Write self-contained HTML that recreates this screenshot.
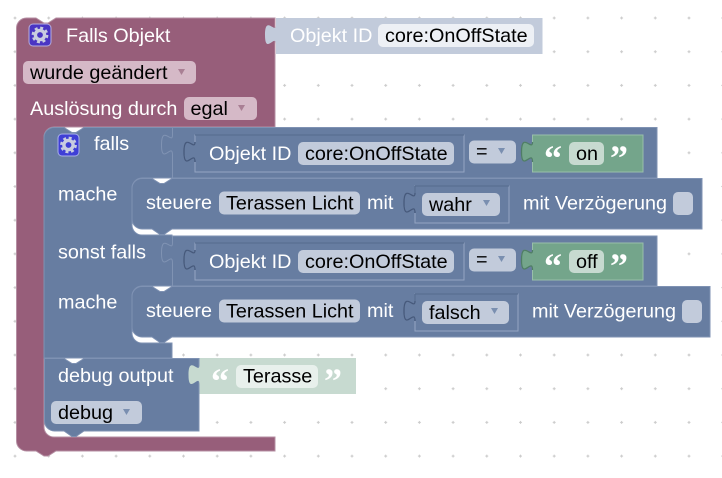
<!DOCTYPE html>
<html><head><meta charset="utf-8"><style>
html,body{margin:0;padding:0;background:#fff}
svg{display:block}
text{font-family:"Liberation Sans",sans-serif;font-size:19.8px;fill:#fff}
.d{fill:#000}
.q{font-family:"Liberation Serif",serif;font-weight:bold;font-size:36px}
.t{fill:none;stroke:#46597b;stroke-width:1.3}
.g{fill:none;stroke:#4f7d65;stroke-width:1.3}
.a{fill:#7a8fb0}
.p{fill:#a97f94}
</style></head><body>
<svg width="722" height="478" viewBox="0 0 722 478" xmlns="http://www.w3.org/2000/svg">
<defs>
<pattern id="g" x="-1.85" y="1.15" width="33.7" height="33.7" patternUnits="userSpaceOnUse"><path d="M15.35 16.85h3M16.85 15.35v3" stroke="#d0d0d0" stroke-width="1"/><circle cx="16.85" cy="16.85" r="1" fill="#ccc"/></pattern>
<g id="gear"><circle r="4.6" fill="none" stroke="#c9cde0" stroke-width="3.4"/><circle r="7.2" fill="none" stroke="#c9cde0" stroke-width="2.4" stroke-dasharray="3 2.65"/></g>
</defs>
<rect width="722" height="478" fill="url(#g)"/>

<!-- outer purple -->
<path d="M26.5,18 H36 l8,5 4,0 8,-5 H275 V127 H54 a10,10 0 0 0 -10,10 V427 a10,10 0 0 0 10,10 H275 V451 H56 l-8,5 -4,0 -8,-5 H26.5 a10,10 0 0 1 -10,-10 V28 a10,10 0 0 1 10,-10 Z" fill="#975e7a" stroke="#b58fa3" stroke-width="1"/>
<rect x="29" y="24" width="22" height="22" rx="4" fill="#4a35c4" stroke="#b5aede"/>
<use href="#gear" x="40" y="35"/>
<text x="66" y="42">Falls Objekt</text>
<rect x="23" y="61" width="173" height="23" rx="5" fill="#d5b9c7"/>
<text class="d" x="30" y="79">wurde geändert</text>
<path class="p" d="M178,69 h7 l-3.500,6 z"/>
<text x="30" y="115">Auslösung durch</text>
<rect x="184" y="97" width="73" height="23" rx="5" fill="#d5b9c7"/>
<text class="d" x="190.500" y="115">egal</text>
<path class="p" d="M238,105 h7 l-3.500,6 z"/>

<!-- light Objekt ID block -->
<path d="M276,25 c0,10 -11,-11 -11,10 s11,-3 11,10 V54 H542.500 V18 H276 Z" fill="#c2cbdb"/>
<text x="290" y="42" fill="#fff">Objekt ID</text>
<rect x="378" y="24" width="156" height="23" rx="5" fill="#edf0f5"/>
<text class="d" x="385" y="42">core:OnOffState</text>

<!-- blue if block -->
<path d="M54,127.500 H64 l8,5 4,0 8,-5 H657 V178 H142 a10,10 0 0 0 -10,10 V225 a10,10 0 0 0 10,10 H172 V236 H657 V286 H142 a10,10 0 0 0 -10,10 V333 a10,10 0 0 0 10,10 H172 V358 H44 V137.500 a10,10 0 0 1 10,-10 Z" fill="#677da1" stroke="#7f92b3" stroke-width="1"/>
<path d="M172.500,128 V135 c0,10 -11,-11 -11,10 s11,-3 11,10 V178 M172.500,236 V243 c0,10 -11,-11 -11,10 s11,-3 11,10 V286" fill="#677da1" stroke="#8093b3"/>
<rect x="58" y="134" width="21" height="22" rx="4" fill="#3f3fd6" stroke="#a8b0e8"/>
<use href="#gear" x="68.500" y="145"/>
<text x="94" y="150">falls</text>
<text x="58" y="200.500">mache</text>
<text x="58" y="258.500">sonst falls</text>
<text x="58" y="308.500">mache</text>

<!-- row 1 condition -->
<path d="M195,142 c0,10 -11,-11 -11,10 s11,-3 11,10 V172 H464 V135 H195 Z" fill="#677da1" stroke="#94a5c2"/>
<path d="M195,135 H464" stroke="#556a8d"/>
<path class="t" d="M195,142 c0,10 -11,-11 -11,10 s11,-3 11,10"/>
<text x="209" y="160">Objekt ID</text>
<rect x="298" y="142" width="156" height="23" rx="5" fill="#c2cbdb"/>
<text class="d" x="305" y="160">core:OnOffState</text>
<rect x="469" y="140.500" width="47" height="23" rx="5" fill="#c2cbdb"/>
<text class="d" x="476" y="158">=</text>
<path class="a" d="M498,148 h7 l-3.500,6 z"/>
<path d="M532.500,142 c0,10 -11,-11 -11,10 s11,-3 11,10 V172 H643 V135 H532.500 Z" fill="#74a58b" stroke="#98bfaa"/>
<path class="g" d="M532.500,142 c0,10 -11,-11 -11,10 s11,-3 11,10"/>
<text class="q" x="544" y="170" fill="#dfeae4">“</text>
<rect x="569" y="142" width="35" height="23" rx="5" fill="#c7dad0"/>
<text class="d" x="576" y="160">on</text>
<text class="q" x="610" y="170" fill="#dfeae4">”</text>

<!-- row 1 steuere -->
<path d="M142,178.500 H152 l8,5 4,0 8,-5 H702 V229 H172 l-8,5.500 -4,0 -8,-5.500 H142 a10,10 0 0 1 -10,-10 V188.500 a10,10 0 0 1 10,-10 Z" fill="#677da1" stroke="#7f92b3"/>
<text x="146" y="209">steuere</text>
<rect x="219" y="191.500" width="141" height="23" rx="5" fill="#c2cbdb"/>
<text class="d" x="226" y="209.500">Terassen Licht</text>
<text x="367" y="209">mit</text>
<path d="M415,193 c0,10 -11,-11 -11,10 s11,-3 11,10 V223 H509 V186 H415 Z" fill="#677da1" stroke="#94a5c2"/>
<path d="M415,186 H509 M415,186 V193" stroke="#556a8d"/>
<path class="t" d="M415,193 c0,10 -11,-11 -11,10 s11,-3 11,10"/>
<rect x="422" y="193" width="78" height="23" rx="5" fill="#c2cbdb"/>
<text class="d" x="429" y="211">wahr</text>
<path class="a" d="M483,200 h7 l-3.500,6 z"/>
<text x="523" y="209.500">mit Verzögerung</text>
<rect x="673" y="192" width="20" height="23" rx="5" fill="#c2cbdb"/>

<!-- row 2 condition -->
<path d="M195,250 c0,10 -11,-11 -11,10 s11,-3 11,10 V280 H464 V243 H195 Z" fill="#677da1" stroke="#94a5c2"/>
<path d="M195,243 H464" stroke="#556a8d"/>
<path class="t" d="M195,250 c0,10 -11,-11 -11,10 s11,-3 11,10"/>
<text x="209" y="268">Objekt ID</text>
<rect x="298" y="250" width="156" height="23" rx="5" fill="#c2cbdb"/>
<text class="d" x="305" y="268">core:OnOffState</text>
<rect x="469" y="248.500" width="47" height="23" rx="5" fill="#c2cbdb"/>
<text class="d" x="476" y="266">=</text>
<path class="a" d="M498,256 h7 l-3.500,6 z"/>
<path d="M532.500,250 c0,10 -11,-11 -11,10 s11,-3 11,10 V280 H643 V243 H532.500 Z" fill="#74a58b" stroke="#98bfaa"/>
<path class="g" d="M532.500,250 c0,10 -11,-11 -11,10 s11,-3 11,10"/>
<text class="q" x="544" y="278" fill="#dfeae4">“</text>
<rect x="569" y="250" width="35" height="23" rx="5" fill="#c7dad0"/>
<text class="d" x="576" y="268">off</text>
<text class="q" x="610" y="278" fill="#dfeae4">”</text>

<!-- row 2 steuere -->
<path d="M142,286.500 H152 l8,5 4,0 8,-5 H710 V337 H172 l-8,5.500 -4,0 -8,-5.500 H142 a10,10 0 0 1 -10,-10 V296.500 a10,10 0 0 1 10,-10 Z" fill="#677da1" stroke="#7f92b3"/>
<text x="146" y="317">steuere</text>
<rect x="219" y="299.500" width="141" height="23" rx="5" fill="#c2cbdb"/>
<text class="d" x="226" y="317.500">Terassen Licht</text>
<text x="367" y="317">mit</text>
<path d="M415,301 c0,10 -11,-11 -11,10 s11,-3 11,10 V331 H518 V294 H415 Z" fill="#677da1" stroke="#94a5c2"/>
<path d="M415,294 H518 M415,294 V301" stroke="#556a8d"/>
<path class="t" d="M415,301 c0,10 -11,-11 -11,10 s11,-3 11,10"/>
<rect x="422" y="301" width="87" height="23" rx="5" fill="#c2cbdb"/>
<text class="d" x="429" y="319">falsch</text>
<path class="a" d="M491,308 h7 l-3.500,6 z"/>
<text x="532" y="317.500">mit Verzögerung</text>
<rect x="682" y="300" width="20" height="23" rx="5" fill="#c2cbdb"/>

<!-- debug block -->
<path d="M44.500,358.500 H64 l8,5 4,0 8,-5 H199 V431 H84 l-8,5.500 -4,0 -8,-5.500 H54.500 a10,10 0 0 1 -10,-10 Z" fill="#677da1" stroke="#7f92b3"/>
<text x="58" y="382">debug output</text>
<rect x="51" y="401" width="91" height="23" rx="5" fill="#c2cbdb"/>
<text class="d" x="58" y="419">debug</text>
<path class="a" d="M123,409 h7 l-3.500,6 z"/>
<path d="M199.500,365 c0,10 -11,-11 -11,10 s11,-3 11,10 V394 H356 V358 H199.500 Z" fill="#c7dad0"/>
<text class="q" x="211" y="393" fill="#f0f5f2">“</text>
<rect x="236" y="365" width="82" height="23" rx="5" fill="#e8f0ec"/>
<text class="d" x="243" y="382.500">Terasse</text>
<text class="q" x="324" y="393" fill="#f0f5f2">”</text>
</svg>
</body></html>
